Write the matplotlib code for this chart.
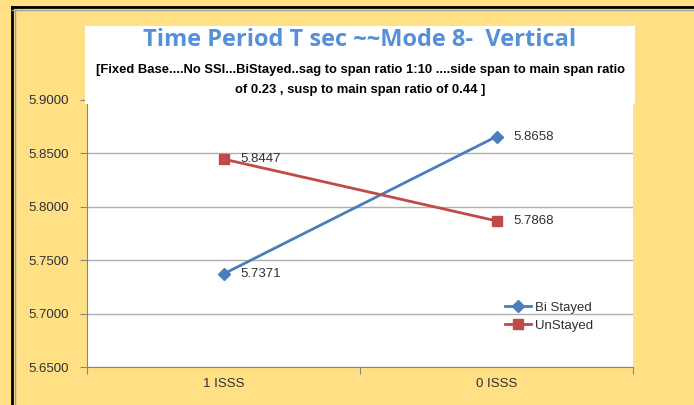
import numpy as np
import matplotlib.pyplot as plt
from matplotlib.patches import Rectangle
from matplotlib.lines import Line2D

# data
categories = ["1 ISSS", "0 ISSS"]
bi_stayed = [5.7371, 5.8658]
un_stayed = [5.8447, 5.7868]
yticks = [5.65, 5.70, 5.75, 5.80, 5.85, 5.90]

bg = "#FFE085"
blue = "#4A7EBB"
red = "#BE4B48"
font = ["Liberation Sans", "DejaVu Sans"]

fig = plt.figure(figsize=(6.94, 4.05), dpi=100)
fig.patch.set_facecolor(bg)

W, H = 694, 405


def fx(px):
    return px / W


def fy(py):
    return 1 - py / H


# outer border (top and left edges visible)
fig.add_artist(Line2D([fx(12), 1], [fy(7), fy(7)], color="black", lw=2))
fig.add_artist(Line2D([fx(12), fx(12)], [fy(7), 0], color="black", lw=2))
fig.add_artist(Line2D([fx(12), 1], [fy(9.5), fy(9.5)], color="#A0A0A0", lw=1))
fig.add_artist(Line2D([fx(14.5), fx(14.5)], [fy(9.5), 0], color="#A0A0A0", lw=1))

ax = fig.add_axes([fx(87), fy(367), fx(633) - fx(87), fy(100) - fy(367)])
ax.set_facecolor("white")

x = np.arange(len(categories)) + 0.5
ax.plot(x, bi_stayed, color=blue, lw=2, marker="D", ms=6.5, label="Bi Stayed", zorder=3)
ax.plot(x, un_stayed, color=red, lw=2, marker="s", ms=7, label="UnStayed", zorder=3)

for xi, v in zip(x, bi_stayed):
    ax.annotate(f"{v:.4f}", (xi, v), xytext=(12, 0), textcoords="offset points",
                va="center", ha="left", fontsize=9.5, color="#303030", family=font)
for xi, v in zip(x, un_stayed):
    ax.annotate(f"{v:.4f}", (xi, v), xytext=(12, 0), textcoords="offset points",
                va="center", ha="left", fontsize=9.5, color="#303030", family=font)

ax.set_xlim(0, 2)
ax.set_ylim(5.65, 5.90)
ax.set_yticks(yticks)
ax.set_yticklabels([f"{t:.4f}" for t in yticks], family=font, fontsize=9.5, color="#303030")
ax.set_xticks([0, 1, 2], minor=False)
ax.set_xticklabels([])
ax.set_xticks(x, minor=True)
ax.set_xticklabels(categories, minor=True, family=font, fontsize=9.5, color="#303030")
ax.tick_params(axis="x", which="minor", length=0, pad=8)
ax.tick_params(axis="x", which="major", length=5, color="#868686")
ax.tick_params(axis="y", length=5, color="#868686", pad=8)
ax.grid(axis="y", color="#B0B0B0", lw=1)
ax.set_axisbelow(True)
for s in ["top", "right"]:
    ax.spines[s].set_visible(False)
for s in ["left", "bottom"]:
    ax.spines[s].set_color("#868686")

leg = ax.legend(loc="upper left", bbox_to_anchor=(0.755, 0.265), frameon=False,
                prop={"family": font, "size": 9.5}, handlelength=2.0, handletextpad=0.3,
                labelspacing=0.45, borderaxespad=0)
for t in leg.get_texts():
    t.set_color("#303030")

# title box
fig.add_artist(Rectangle((fx(85), fy(104)), fx(635) - fx(85), fy(26) - fy(104),
                         facecolor="white", edgecolor="none", zorder=5))
fig.text(fx(360), fy(40), "Time Period T sec ~~Mode 8-  Vertical", ha="center", va="center",
         fontsize=17, fontweight="bold", color="#5590D8", family=["Open Sans", "DejaVu Sans"], zorder=6)
fig.text(fx(360), fy(70), "[Fixed Base....No SSI...BiStayed..sag to span ratio 1:10 ....side span to main span ratio",
         ha="center", va="center", fontsize=9.4, fontweight="bold", color="black", family=font, zorder=6)
fig.text(fx(360), fy(90), "of 0.23 , susp to main span ratio of 0.44 ]",
         ha="center", va="center", fontsize=9.4, fontweight="bold", color="black", family=font, zorder=6)

fig.savefig("out.png", dpi=100, facecolor=bg)
